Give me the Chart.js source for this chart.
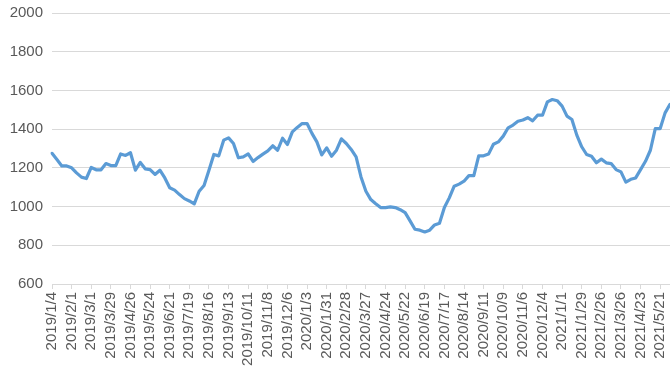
<!DOCTYPE html>
<html>
<head>
<meta charset="utf-8">
<script src="https://cdn.jsdelivr.net/npm/chart.js@4"></script>
<style>
html,body{margin:0;padding:0;background:#fff;overflow:hidden;}
#wrap{width:670px;height:380px;position:relative;}
</style>
</head>
<body>
<div id="wrap"><canvas id="c" width="670" height="380"></canvas></div>
<script>
const categories = [
"2019/1/4","2019/1/11","2019/1/18","2019/1/25","2019/2/1","2019/2/8","2019/2/15","2019/2/22",
"2019/3/1","2019/3/8","2019/3/15","2019/3/22","2019/3/29","2019/4/5","2019/4/12","2019/4/19",
"2019/4/26","2019/5/3","2019/5/10","2019/5/17","2019/5/24","2019/5/31","2019/6/7","2019/6/14",
"2019/6/21","2019/6/28","2019/7/5","2019/7/12","2019/7/19","2019/7/26","2019/8/2","2019/8/9",
"2019/8/16","2019/8/23","2019/8/30","2019/9/6","2019/9/13","2019/9/20","2019/9/27","2019/10/4",
"2019/10/11","2019/10/18","2019/10/25","2019/11/1","2019/11/8","2019/11/15","2019/11/22","2019/11/29",
"2019/12/6","2019/12/13","2019/12/20","2019/12/27","2020/1/3","2020/1/10","2020/1/17","2020/1/24",
"2020/1/31","2020/2/7","2020/2/14","2020/2/21","2020/2/28","2020/3/6","2020/3/13","2020/3/20",
"2020/3/27","2020/4/3","2020/4/10","2020/4/17","2020/4/24","2020/5/1","2020/5/8","2020/5/15",
"2020/5/22","2020/5/29","2020/6/5","2020/6/12","2020/6/19","2020/6/26","2020/7/3","2020/7/10",
"2020/7/17","2020/7/24","2020/7/31","2020/8/7","2020/8/14","2020/8/21","2020/8/28","2020/9/4",
"2020/9/11","2020/9/18","2020/9/25","2020/10/2","2020/10/9","2020/10/16","2020/10/23","2020/10/30",
"2020/11/6","2020/11/13","2020/11/20","2020/11/27","2020/12/4","2020/12/11","2020/12/18","2020/12/25",
"2021/1/1","2021/1/8","2021/1/15","2021/1/22","2021/1/29","2021/2/5","2021/2/12","2021/2/19",
"2021/2/26","2021/3/5","2021/3/12","2021/3/19","2021/3/26","2021/4/2","2021/4/9","2021/4/16",
"2021/4/23","2021/4/30","2021/5/7","2021/5/14","2021/5/21","2021/5/28","2021/6/4"
];

const values = [
1275,1243,1210,1210,1200,1174,1152,1145,
1202,1190,1190,1222,1212,1212,1272,1264,
1278,1188,1228,1195,1191,1166,1188,1148,
1097,1085,1062,1041,1029,1014,1079,1109,
1188,1269,1262,1343,1355,1326,1252,1257,
1272,1233,1253,1271,1288,1314,1291,1353,
1321,1386,1409,1429,1429,1378,1334,1267,
1303,1260,1291,1350,1326,1295,1257,1153,
1079,1036,1015,995,995,998,995,984,
969,926,883,878,869,878,905,914,
995,1045,1105,1116,1131,1160,1160,1262,
1262,1271,1322,1334,1364,1407,1421,1441,
1447,1459,1443,1472,1472,1541,1553,1547,
1519,1467,1450,1369,1309,1269,1260,1226,
1245,1226,1222,1191,1179,1126,1141,1148,
1191,1234,1291,1403,1403,1484,1528
];

const yTicks = [600, 800, 1000, 1200, 1400, 1600, 1800, 2000];
const labelEvery = 4;

const textColor = '#595959';
const gridColor = '#d9d9d9';
const fontFamily = '"Liberation Sans", Arial, sans-serif';

new Chart(document.getElementById('c'), {
  type: 'line',
  data: {
    labels: categories,
    datasets: [{
      data: values,
      borderColor: '#5B9BD5',
      borderWidth: 3.2,
      pointRadius: 0,
      pointHoverRadius: 0,
      tension: 0,
      fill: false,
      borderJoinStyle: 'round',
      borderCapStyle: 'round'
    }]
  },
  options: {
    responsive: false,
    animation: false,
    devicePixelRatio: 1,
    layout: { padding: { top: 13, right: 0, bottom: 0, left: 0 } },
    plugins: { legend: { display: false }, tooltip: { enabled: false }, title: { display: false } },
    scales: {
      x: {
        type: 'category',
        offset: false,
        afterBuildTicks: (scale) => {
          scale.ticks = scale.ticks.filter((t, i) => i % labelEvery === 0);
        },
        afterFit: (scale) => {
          scale.height = 96;
          scale.paddingLeft = 0;
          scale.paddingRight = 0;
        },
        grid: {
          display: true,
          drawOnChartArea: false,
          drawTicks: true,
          tickLength: 5,
          tickColor: gridColor,
          color: gridColor
        },
        border: { display: true, color: gridColor, width: 1 },
        ticks: {
          autoSkip: false,
          minRotation: 90,
          maxRotation: 90,
          padding: 3,
          color: textColor,
          font: { family: fontFamily, size: 15 }
        }
      },
      y: {
        min: 600,
        max: 2000,
        afterBuildTicks: (scale) => {
          scale.ticks = yTicks.map(v => ({ value: v }));
        },
        afterFit: (scale) => {
          scale.width = 52;
          scale.paddingTop = 0;
          scale.paddingBottom = 0;
        },
        grid: {
          color: gridColor,
          lineWidth: 1,
          drawTicks: false
        },
        border: { display: false },
        ticks: {
          padding: 9,
          color: textColor,
          font: { family: fontFamily, size: 15 },
          callback: (v) => String(v)
        }
      }
    }
  }
});
</script>
</body>
</html>
